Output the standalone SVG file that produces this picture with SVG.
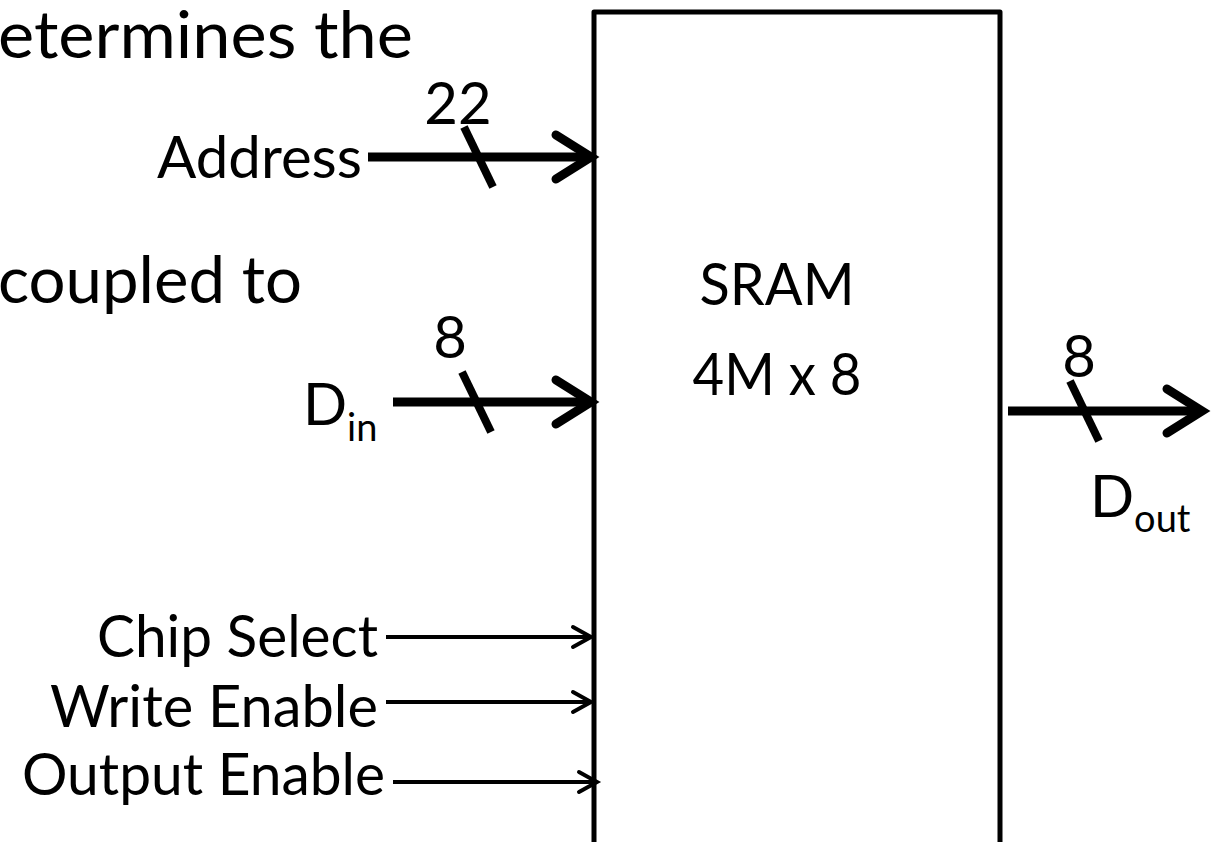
<svg xmlns="http://www.w3.org/2000/svg" width="1216" height="842" viewBox="0 0 1216 842">
<style>
text { font-family: Lato, "Liberation Sans", sans-serif; fill: #000; }
.big { font-size: 66px; }
.lbl { font-size: 58px; }
.sub { font-size: 38px; }
.box { fill: #fff; stroke: #000; stroke-width: 5; stroke-linejoin: round; }
.bus { stroke: #000; stroke-width: 9; fill: none; }
.head { stroke: #000; stroke-width: 9; fill: none; stroke-linecap: round; stroke-linejoin: miter; }
.tick { stroke: #000; stroke-width: 8; }
.sig { stroke: #000; stroke-width: 4; fill: none; }
.shead { stroke: #000; stroke-width: 4; fill: none; stroke-linecap: round; }
</style>
<rect width="1216" height="842" fill="#fff"/>
<g id="caption">
<text class="big" x="413" y="58" text-anchor="end" textLength="415" lengthAdjust="spacingAndGlyphs">etermines the</text>
<text class="big" x="302" y="303" text-anchor="end" textLength="304" lengthAdjust="spacingAndGlyphs">coupled to</text>
</g>
<g id="sram">
<rect class="box" x="594" y="12" width="406" height="900"/>
<text class="lbl" x="777" y="305" text-anchor="middle" textLength="155" lengthAdjust="spacingAndGlyphs">SRAM</text>
<text class="lbl" x="777" y="395" text-anchor="middle" textLength="169" lengthAdjust="spacingAndGlyphs">4M x 8</text>
</g>
<g id="address">
<text class="lbl" x="362" y="178" text-anchor="end" textLength="205" lengthAdjust="spacingAndGlyphs">Address</text>
<text class="lbl" x="458" y="124" text-anchor="middle">22</text>
</g>
<g id="din">
<text class="lbl" x="303" y="425">D<tspan class="sub" dy="16">in</tspan></text>
<text class="lbl" x="450" y="358" text-anchor="middle">8</text>
</g>
<g id="dout">
<text class="lbl" x="1090" y="517">D<tspan class="sub" dy="15">out</tspan></text>
<text class="lbl" x="1079" y="377" text-anchor="middle">8</text>
</g>
<g id="chip-select">
<text class="lbl" x="378" y="657" text-anchor="end" textLength="281" lengthAdjust="spacingAndGlyphs">Chip Select</text>
</g>
<g id="write-enable">
<text class="lbl" x="378" y="727" text-anchor="end" textLength="328" lengthAdjust="spacingAndGlyphs">Write Enable</text>
</g>
<g id="output-enable">
<text class="lbl" x="385" y="795" text-anchor="end" textLength="363" lengthAdjust="spacingAndGlyphs">Output Enable</text>
</g>
<g id="connectors">
<line class="bus" x1="368" y1="157" x2="588" y2="157"/>
<polyline class="head" points="556,135 591,157 556,179"/>
<line class="tick" x1="464" y1="127" x2="493" y2="187"/>
<line class="bus" x1="393" y1="402" x2="588" y2="402"/>
<polyline class="head" points="556,380 591,402 556,424"/>
<line class="tick" x1="462" y1="372" x2="491" y2="432"/>
<line class="bus" x1="1008" y1="411" x2="1198" y2="411"/>
<polyline class="head" points="1167,389 1202,411 1167,433"/>
<line class="tick" x1="1070" y1="381" x2="1099" y2="441"/>
<line class="sig" x1="386" y1="637" x2="590" y2="637"/>
<polyline class="shead" points="573,627 591,637 573,647"/>
<line class="sig" x1="386" y1="702" x2="590" y2="702"/>
<polyline class="shead" points="573,692 591,702 573,712"/>
<line class="sig" x1="393" y1="782" x2="596" y2="782"/>
<polyline class="shead" points="579,772 597,782 579,792"/>
</g>
</svg>
